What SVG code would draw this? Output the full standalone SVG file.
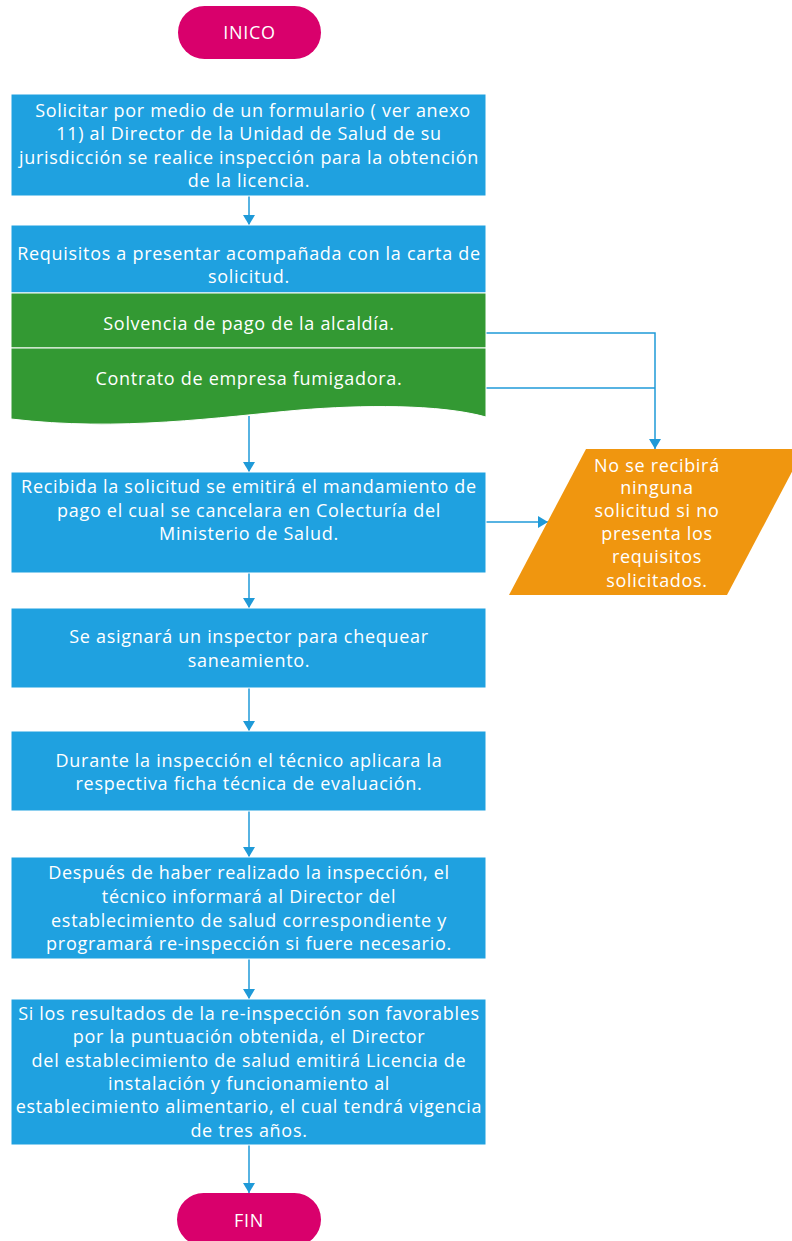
<svg xmlns="http://www.w3.org/2000/svg" width="792" height="1241" viewBox="0 0 792 1241">
  <style>
    .t { font-family: "Open Sans", "Noto Sans", "Liberation Sans", sans-serif; font-size: 18px; letter-spacing: 0.7px; fill: #ffffff; text-anchor: middle; }
    .step { fill: #1FA1E0; stroke: #ffffff; stroke-width: 1; }
    .req { fill: #339933; stroke: #ffffff; stroke-width: 1; }
    .term { fill: #D9006C; }
    .io { fill: #F0960F; }
    .conn { fill: none; stroke: #1F9AD8; stroke-width: 1.5; }
    .arr { marker-end: url(#ah); }
  </style>
  <defs>
    <marker id="ah" markerUnits="userSpaceOnUse" markerWidth="12" markerHeight="12" refX="10" refY="6" orient="auto" viewBox="0 0 10 12">
      <path d="M0,0 L10,6 L0,12 Z" fill="#1F9AD8"/>
    </marker>
  </defs>

  <!-- connectors -->
  <g id="connectors">
    <line class="conn arr" x1="249" y1="196" x2="249" y2="225"/>
    <line class="conn arr" x1="249" y1="416" x2="249" y2="472"/>
    <polyline class="conn arr" points="486,333 655,333 655,449"/>
    <line class="conn" x1="486" y1="388" x2="655" y2="388"/>
    <line class="conn arr" x1="486" y1="522" x2="548" y2="522"/>
    <line class="conn arr" x1="249" y1="573" x2="249" y2="608"/>
    <line class="conn arr" x1="249" y1="688" x2="249" y2="731"/>
    <line class="conn arr" x1="249" y1="811" x2="249" y2="857"/>
    <line class="conn arr" x1="249" y1="959" x2="249" y2="999"/>
    <line class="conn arr" x1="249" y1="1145" x2="249" y2="1193"/>
  </g>

  <g id="inicio">
    <rect class="term" x="178" y="6" width="143" height="53" rx="26.5"/>
    <text class="t" x="249.5" y="39">INICO</text>
  </g>

  <g id="solicitar">
    <rect class="step" x="11" y="94" width="475" height="102"/>
    <text class="t" x="253" y="117">Solicitar por medio de un formulario ( ver anexo</text>
    <text class="t" x="249" y="140">11) al Director de la Unidad de Salud de su</text>
    <text class="t" x="249" y="164">jurisdicción se realice inspección para la obtención</text>
    <text class="t" x="249" y="187">de la licencia.</text>
  </g>

  <g id="requisitos">
    <rect class="step" x="11" y="225" width="475" height="68"/>
    <text class="t" x="249" y="260">Requisitos a presentar acompañada con la carta de</text>
    <text class="t" x="249" y="283">solicitud.</text>
  </g>

  <g id="solvencia">
    <rect class="req" x="11" y="293" width="475" height="55"/>
    <text class="t" x="249" y="330">Solvencia de pago de la alcaldía.</text>
  </g>

  <g id="contrato">
    <path class="req" d="M11,348 H486 V417 C440,404 360,405 300,410 C220,417 120,432 11,419 Z"/>
    <text class="t" x="249" y="385">Contrato de empresa fumigadora.</text>
  </g>

  <g id="rechazo">
    <polygon class="io" points="586,449 804,449 727,595 509,595"/>
    <text class="t" x="657" y="472">No se recibirá</text>
    <text class="t" x="657" y="494">ninguna</text>
    <text class="t" x="657" y="517">solicitud si no</text>
    <text class="t" x="657" y="540">presenta los</text>
    <text class="t" x="657" y="563">requisitos</text>
    <text class="t" x="657" y="587">solicitados.</text>
  </g>

  <g id="recibida">
    <rect class="step" x="11" y="472" width="475" height="101"/>
    <text class="t" x="249" y="493">Recibida la solicitud se emitirá el mandamiento de</text>
    <text class="t" x="249" y="517">pago el cual se cancelara en Colecturía del</text>
    <text class="t" x="249" y="540">Ministerio de Salud.</text>
  </g>

  <g id="asignar">
    <rect class="step" x="11" y="608" width="475" height="80"/>
    <text class="t" x="249" y="643">Se asignará un inspector para chequear</text>
    <text class="t" x="249" y="667">saneamiento.</text>
  </g>

  <g id="durante">
    <rect class="step" x="11" y="731" width="475" height="80"/>
    <text class="t" x="249" y="767">Durante la inspección el técnico aplicara la</text>
    <text class="t" x="249" y="790">respectiva ficha técnica de evaluación.</text>
  </g>

  <g id="despues">
    <rect class="step" x="11" y="857" width="475" height="102"/>
    <text class="t" x="249" y="879">Después de haber realizado la inspección, el</text>
    <text class="t" x="249" y="903">técnico informará al Director del</text>
    <text class="t" x="249" y="927">establecimiento de salud correspondiente y</text>
    <text class="t" x="249" y="950">programará re-inspección si fuere necesario.</text>
  </g>

  <g id="resultados">
    <rect class="step" x="11" y="999" width="475" height="146"/>
    <text class="t" x="249" y="1020">Si los resultados de la re-inspección son favorables</text>
    <text class="t" x="249" y="1043">por la puntuación obtenida, el Director</text>
    <text class="t" x="249" y="1067">del establecimiento de salud emitirá Licencia de</text>
    <text class="t" x="249" y="1090">instalación y funcionamiento al</text>
    <text class="t" x="249" y="1113">establecimiento alimentario, el cual tendrá vigencia</text>
    <text class="t" x="249" y="1137">de tres años.</text>
  </g>

  <g id="fin">
    <rect class="term" x="177" y="1193" width="144" height="53" rx="26.5"/>
    <text class="t" x="249" y="1227">FIN</text>
  </g>
</svg>
